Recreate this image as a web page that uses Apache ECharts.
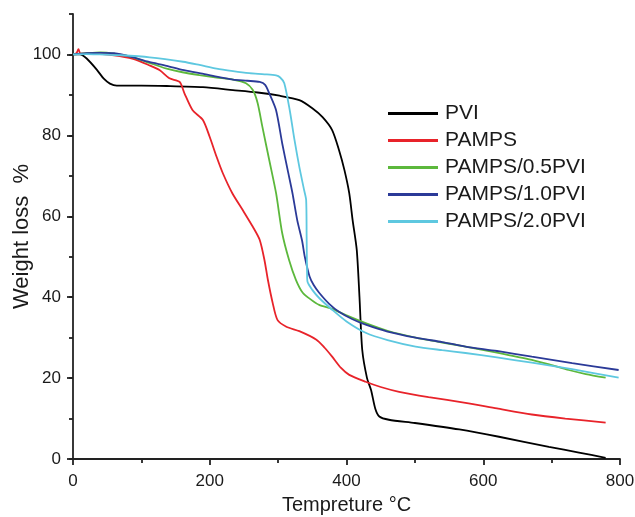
<!DOCTYPE html>
<html><head><meta charset="utf-8">
<script src="https://cdn.jsdelivr.net/npm/echarts@6/dist/echarts.min.js"></script>
<style>html,body{margin:0;padding:0;background:#fff}#c{width:635px;height:517px}</style>
</head><body><div id="c"></div>
<script>
const seriesNames = ['PVI','PAMPS','PAMPS/0.5PVI','PAMPS/1.0PVI','PAMPS/2.0PVI'];
const colors = ['#000000','#e8232a','#5cb83c','#2b3a98','#5ec8e0'];
const xTicks = [0,200,400,600,800];
const yTicks = [0,20,40,60,80,100];

const pvi = [[0,100],[10,100],[20,99],[35,96.2],[45,94],[54,92.8],[64,92.3],[100,92.3],[137,92.2],[190,91.9],[234,91.2],[270,90.6],[302,89.8],[331,88.7],[350,86.7],[365,84.5],[379,81.3],[389,76.4],[397,71.4],[404,65.7],[409,59],[415,51.7],[419,40],[423,27],[430,20],[436,17],[442,12.5],[448,10.5],[462,9.7],[500,8.9],[565,7.3],[623,5.5],[696,3],[740,1.6],[779,0.3]];
const pamps = [[0,100],[5,100.3],[8,101.3],[11,100.2],[30,100.2],[60,99.8],[88,98.9],[112,97.3],[127,96.1],[141,94.1],[156,93.2],[163,90.4],[175,86.2],[190,83.8],[200,79.6],[210,74.7],[219,70.7],[233,65.7],[248,61.6],[263,57.4],[273,54.2],[280,49.2],[285,44.3],[292,38.6],[299,34.4],[312,32.7],[331,31.6],[356,29.5],[368,27.5],[379,25.3],[392,22.5],[404,20.8],[428,19.1],[450,17.8],[477,16.6],[520,15.3],[574,13.9],[620,12.5],[671,11],[720,10],[779,9]];
const p05 = [[0,100],[20,100.3],[40,100.5],[60,100.2],[88,99.3],[110,98],[137,96.5],[160,95.6],[185,94.9],[210,94.3],[234,93.8],[253,92.9],[263,91.2],[270,88],[277,82.1],[287,73.9],[297,65.7],[306,55.8],[316,49.2],[326,44.3],[336,41.1],[348,39.4],[360,38.1],[379,37.1],[400,35.5],[428,33.6],[460,31.7],[501,30],[540,28.8],[574,27.8],[620,26.3],[671,24.5],[700,23.2],[725,22],[750,21],[779,20.1]];
const p10 = [[0,100],[20,100.3],[40,100.4],[60,100.3],[88,99.3],[110,98.2],[137,97.2],[160,96.2],[185,95.4],[210,94.5],[234,93.8],[255,93.5],[273,93.2],[281,92.5],[287,90.4],[297,86.2],[306,78],[314,71.4],[321,65.7],[328,59],[335,54],[339,50],[346,45.1],[352,43],[360,41.1],[375,38.3],[389,36.4],[408,34.6],[428,33.2],[460,31.5],[501,30],[540,28.9],[574,27.8],[620,26.7],[671,25.3],[730,23.7],[798,22]];
const p20 = [[0,100],[20,100.1],[39,100],[70,99.8],[112,99.3],[161,98.2],[185,97.4],[210,96.5],[234,95.9],[258,95.4],[280,95.1],[297,94.8],[303,94.3],[309,92.9],[317,86.2],[324,78.8],[331,72.2],[338,66.5],[341,64],[341.7,55],[342.3,46],[343,43.8],[350,41.8],[360,39.8],[379,36.9],[400,34],[428,31.2],[460,29.4],[501,27.8],[540,26.9],[574,26.2],[620,25.1],[671,23.8],[730,22.2],[798,20.1]];
const dataSets = [pvi, pamps, p05, p10, p20];

const chart = echarts.init(document.getElementById('c'), null, {renderer:'canvas'});
const txt = '#1a1a1a';
const axisLine = {show:true, lineStyle:{color:'#222', width:1.8}};
chart.setOption({
  animation:false,
  backgroundColor:'#fff',
  textStyle:{fontFamily:'Liberation Sans, Arial, sans-serif'},
  grid:{left:73, right:15, top:14, bottom:58, containLabel:false, outerBoundsMode:'none'},
  legend:{
    orient:'vertical', left:383, top:98, itemWidth:50, itemHeight:3, itemGap:6,
    icon:'rect',
    textStyle:{fontSize:21, color:txt, fontFamily:'Liberation Sans, Arial, sans-serif', padding:[0,0,0,2]},
    data:seriesNames
  },
  xAxis:{
    type:'value', min:0, max:800, interval:200,
    name:'Tempreture °C', nameLocation:'middle', nameGap:36, nameMoveOverlap:false,
    nameTextStyle:{fontSize:20, color:txt},
    axisLine:axisLine,
    axisTick:{show:true, length:6, lineStyle:{color:'#222', width:1.8}},
    minorTick:{show:true, splitNumber:2, length:4, lineStyle:{color:'#222', width:1.8}},
    axisLabel:{fontSize:17, color:txt, margin:14},
    splitLine:{show:false}
  },
  yAxis:[{
    type:'value', min:0, max:110, interval:20,
    name:'Weight loss  %', nameLocation:'middle', nameGap:40, nameMoveOverlap:false,
    nameTextStyle:{fontSize:22, color:txt},
    axisLine:axisLine,
    axisTick:{show:true, length:6, lineStyle:{color:'#222', width:1.8}},
    axisLabel:{fontSize:17, color:txt, margin:12, showMaxLabel:false,
      formatter:v => yTicks.includes(v) ? String(v) : ''},
    splitLine:{show:false}
  },{
    type:'value', min:0, max:110, interval:10, position:'left',
    axisLine:{show:false},
    axisTick:{show:true, length:4, lineStyle:{color:'#222', width:1.8}},
    axisLabel:{show:false}, splitLine:{show:false}
  }],
  series: seriesNames.map((n,i)=>({
    name:n, type:'line', data:dataSets[i], showSymbol:false, symbol:'none',
    smooth:0.25, yAxisIndex:0,
    lineStyle:{color:colors[i], width:1.8}, itemStyle:{color:colors[i]}
  }))
});
</script></body></html>
